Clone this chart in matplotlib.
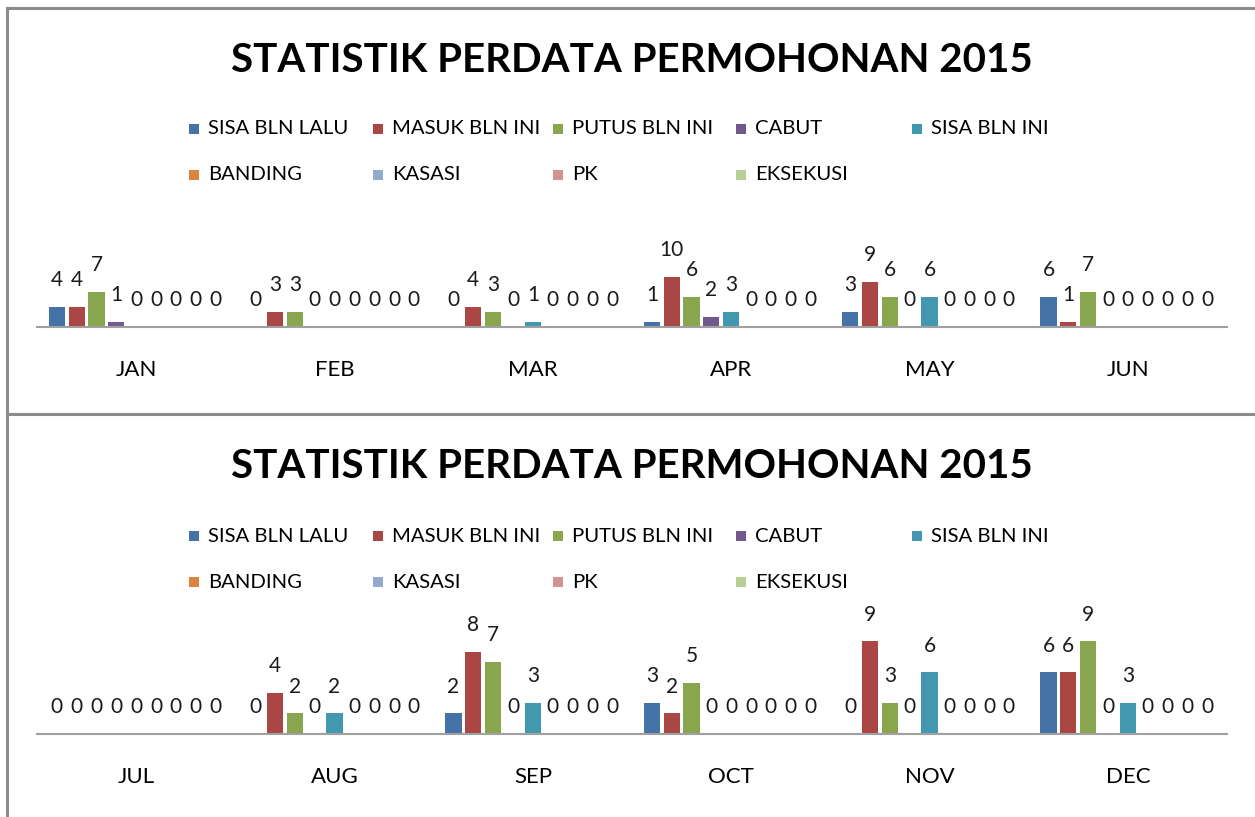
import matplotlib.pyplot as plt
import numpy as np
from matplotlib.patches import Rectangle
from matplotlib.lines import Line2D

plt.rcParams['font.family'] = ['Lato', 'DejaVu Sans']

# data
series = ['SISA BLN LALU', 'MASUK BLN INI', 'PUTUS BLN INI', 'CABUT', 'SISA BLN INI',
          'BANDING', 'KASASI', 'PK', 'EKSEKUSI']
colors = ['#4572A7', '#AA4643', '#89A54E', '#71588F', '#4198AF',
          '#DB843D', '#93A9CF', '#D19392', '#B9CD96']

months_1 = ['JAN', 'FEB', 'MAR', 'APR', 'MAY', 'JUN']
months_2 = ['JUL', 'AUG', 'SEP', 'OCT', 'NOV', 'DEC']

# rows = month, cols = series
vals_1 = [[4, 4, 7, 1, 0, 0, 0, 0, 0],
          [0, 3, 3, 0, 0, 0, 0, 0, 0],
          [0, 4, 3, 0, 1, 0, 0, 0, 0],
          [1, 10, 6, 2, 3, 0, 0, 0, 0],
          [3, 9, 6, 0, 6, 0, 0, 0, 0],
          [6, 1, 7, 0, 0, 0, 0, 0, 0]]
vals_2 = [[0, 0, 0, 0, 0, 0, 0, 0, 0],
          [0, 4, 2, 0, 2, 0, 0, 0, 0],
          [2, 8, 7, 0, 3, 0, 0, 0, 0],
          [3, 2, 5, 0, 0, 0, 0, 0, 0],
          [0, 9, 3, 0, 6, 0, 0, 0, 0],
          [6, 6, 9, 0, 3, 0, 0, 0, 0]]

title = 'STATISTIK PERDATA PERMOHONAN 2015'

W, H = 1255, 817
fig = plt.figure(figsize=(W / 100, H / 100), dpi=100)

def fx(px):
    return px / W

def fy(py):
    return 1 - py / H

# panel borders
for (x0, y0, x1, y1) in [(7, 8, W, 8), (7, 8, 7, H), (7, 414, W, 414)]:
    fig.add_artist(Line2D([fx(x0), fx(x1)], [fy(y0), fy(y1)], color='#8c8c8c', lw=2.2))

pitch = 0.1
bw = 0.082

def panel(off, months, vals, ymax):
    # title
    fig.text(fx(632), fy(60 + off), title, ha='center', va='center',
             fontsize=29, fontweight='bold', color='black')
    # legend, two rows
    colx = [189, 373, 553, 736, 912]
    for i, name in enumerate(series):
        r, c = divmod(i, 5)
        y = 129 + off + r * 46
        fig.add_artist(Rectangle((fx(colx[c]), fy(y + 5)), fx(10), 10 / H,
                                 facecolor=colors[i], edgecolor='none'))
        fig.text(fx(colx[c] + 19), fy(y), name, ha='left', va='center',
                 fontsize=14.6, color='black')
    # bars
    axis_y = 327 + off
    ax = fig.add_axes([fx(37), fy(axis_y), fx(1190), 100 / H])
    v = np.array(vals)
    x = np.arange(len(months))
    for j in range(len(series)):
        xs = x + (j - 4) * pitch
        ax.bar(xs, v[:, j], width=bw, color=colors[j], zorder=2)
        for xi, yi in zip(xs, v[:, j]):
            ax.annotate(str(yi), (xi, yi), xytext=(0, 12), textcoords='offset points',
                        ha='center', va='bottom', fontsize=15, color='#1a1a1a',
                        annotation_clip=False)
    ax.set_xlim(-0.5, len(months) - 0.5)
    ax.set_ylim(0, ymax)
    ax.set_xticks(x)
    ax.set_xticklabels(months, fontsize=16)
    ax.tick_params(axis='x', length=0, pad=24)
    ax.set_yticks([])
    for s in ['top', 'right', 'left']:
        ax.spines[s].set_visible(False)
    ax.spines['bottom'].set_color('#a0a0a0')
    ax.spines['bottom'].set_linewidth(1.5)
    ax.patch.set_alpha(0)

panel(0, months_1, vals_1, 20)
panel(407, months_2, vals_2, 100 / 10.3)

fig.savefig('out.png', dpi=100)
